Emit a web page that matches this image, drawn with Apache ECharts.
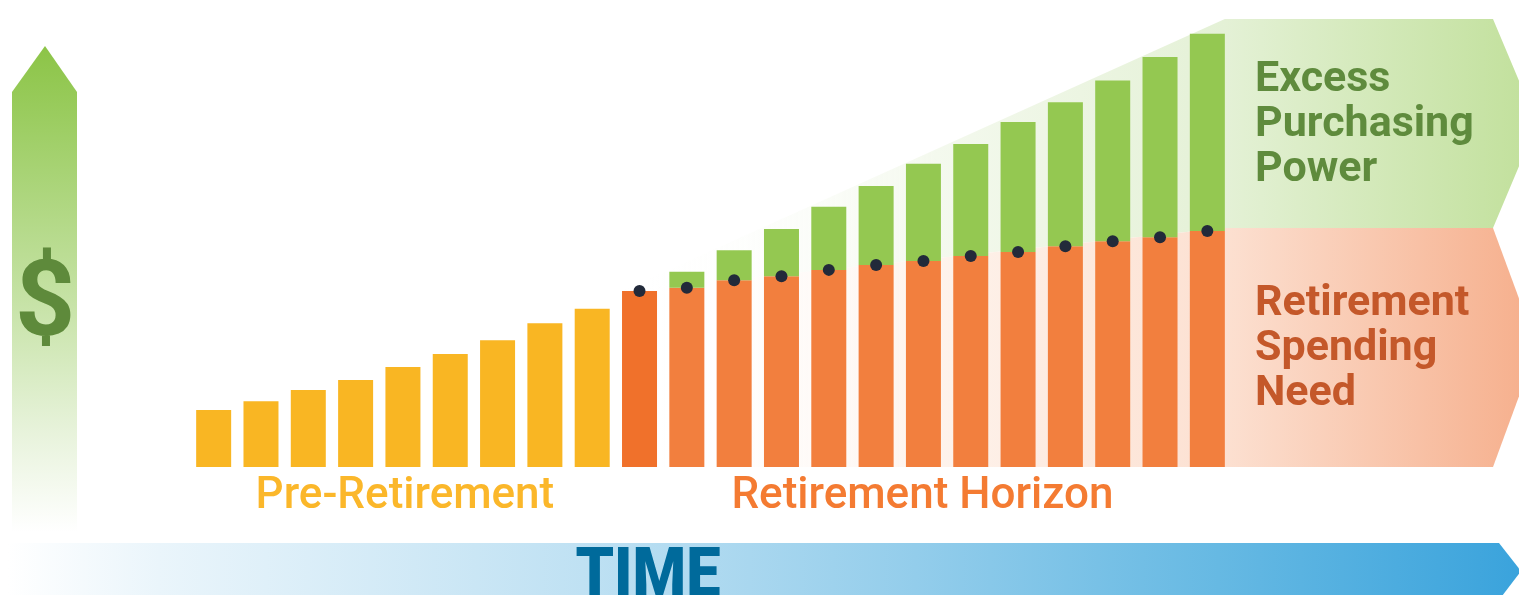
<!DOCTYPE html>
<html><head><meta charset="utf-8">
<script src="https://cdn.jsdelivr.net/npm/echarts@6/dist/echarts.min.js"></script>
<style>html,body{margin:0;padding:0;background:#fff}#c{width:1519px;height:595px}</style>
</head><body><div id="c"></div>
<script>
// ---- data ----
const categories = ['P1','P2','P3','P4','P5','P6','P7','P8','P9','R1','R2','R3','R4','R5','R6','R7','R8','R9','R10','R11','R12','R13'];
const preRetirement = [12.7, 14.7, 17.2, 19.4, 22.3, 25.2, 28.3, 32.1, 35.3];
const retirementNeed = [39.3, 40.0, 41.7, 42.6, 44.0, 45.1, 46.0, 47.1, 48.0, 49.3, 50.4, 51.3, 52.7];
const excessPower = [0, 3.6, 6.7, 10.5, 14.1, 17.6, 21.7, 25.0, 29.0, 32.1, 35.9, 40.2, 44.0];
const groupLabels = ['Pre-Retirement', 'Retirement Horizon'];
const panelLabels = [['Excess', 'Purchasing', 'Power'], ['Retirement', 'Spending', 'Need']];
const axisLabels = ['$', 'TIME'];

const chart = echarts.init(document.getElementById('c'), null, {renderer: 'canvas'});
const nP = preRetirement.length;
const nAll = categories.length;
const needData = preRetirement.map(v => ({value: v, itemStyle: {color: '#f9b623'}}))
  .concat(retirementNeed.map((v, i) => ({value: v, itemStyle: {color: i === 0 ? '#f0712b' : '#f27f3e'}})));
const excessData = preRetirement.map(() => '-').concat(excessPower.map(v => v > 0 ? v : '-'));
const dotData = preRetirement.map(() => '-').concat(retirementNeed);
const BW = 35;

chart.setOption({
  animation: false,
  grid: {left: 190, right: 288, top: 19, bottom: 128},
  xAxis: {type: 'category', data: categories, show: false},
  yAxis: {type: 'value', min: 0, max: 100, show: false},
  series: [
    {type: 'bar', stack: 's', data: needData, barWidth: BW, z: 3},
    {type: 'bar', stack: 's', data: excessData, barWidth: BW, itemStyle: {color: '#94c851'}, z: 3},
    {type: 'scatter', data: dotData, symbolSize: 12, itemStyle: {color: '#222a3a', opacity: 1}, z: 5}
  ]
});

const px = (i, v) => chart.convertToPixel({seriesIndex: 0}, [i, v]);
const half = BW / 2;
const first = nP, last = nAll - 1;
const s = px(first, retirementNeed[0]);
const startX = s[0] - half, startY = s[1];
const e = px(last, 100);
const endX = e[0] + half, topY = e[1];
const divY = px(last, retirementNeed[retirementNeed.length - 1])[1] - 3;
const baseY = px(last, 0)[1];
const panelR = 1493, tipX = 1537;
const W = 1519;
const g0 = (startX), gw = W - startX;
const off = x => Math.max(0, Math.min(1, (x - g0) / gw));

const greenGrad = {type: 'linear', x: g0, y: 0, x2: W, y2: 0, global: true, colorStops: [
  {offset: 0, color: 'rgba(255,255,255,0)'},
  {offset: 0.35, color: 'rgba(244,249,238,1)'},
  {offset: off(endX), color: '#e4f1d6'},
  {offset: 1, color: '#c3e19e'}]};
const orangeGrad = {type: 'linear', x: g0, y: 0, x2: W, y2: 0, global: true, colorStops: [
  {offset: 0, color: 'rgba(255,255,255,0)'},
  {offset: 0.35, color: 'rgba(254,243,236,1)'},
  {offset: off(endX), color: '#fce0d1'},
  {offset: 1, color: '#f6b18f'}]};

const mid = (a, b) => (px(a, 0)[0] + px(b, 0)[0]) / 2;
const font = (w, sz) => w + ' ' + sz + 'px Roboto, "Open Sans", sans-serif';
const graphics = [
  // vertical $ arrow
  {type: 'polygon', z: 0, shape: {points: [[12, 92], [45, 46], [77, 92], [77, 532], [12, 532]]},
   style: {fill: {type: 'linear', x: 0, y: 0, x2: 0, y2: 1, colorStops: [
     {offset: 0, color: '#8cc447'}, {offset: 0.12, color: '#98cb5b'}, {offset: 0.5, color: '#c3e1a1'},
     {offset: 0.8, color: '#e8f3dc'}, {offset: 1, color: '#ffffff'}]}}},
  // horizontal TIME arrow
  {type: 'polygon', z: 0, shape: {points: [[8, 543], [1499, 543], [1521, 571], [1499, 600], [8, 600]]},
   style: {fill: {type: 'linear', x: 0, y: 0, x2: 1, y2: 0, colorStops: [
     {offset: 0, color: '#ffffff'}, {offset: 0.1, color: '#eaf5fb'}, {offset: 0.38, color: '#bfe1f3'},
     {offset: 0.6, color: '#93cdeb'}, {offset: 0.8, color: '#66b9e3'}, {offset: 1, color: '#3aa3dc'}]}}},
  // green tint panel
  {type: 'polygon', z: 0, shape: {points: [[startX, startY], [endX, topY], [panelR, topY], [tipX, (topY + divY) / 2], [panelR, divY], [endX, divY]]},
   style: {fill: greenGrad}},
  // orange tint panel
  {type: 'polygon', z: 0, shape: {points: [[startX, startY], [endX, divY], [panelR, divY], [tipX, (divY + baseY) / 2], [panelR, baseY], [startX, baseY]]},
   style: {fill: orangeGrad}},
  // texts
  {type: 'text', z: 10, x: 45, y: 309, style: {text: axisLabels[0], font: font('bold', 105), fill: '#5e8a3b', align: 'center', verticalAlign: 'middle'}},
  {type: 'text', z: 10, x: 648, y: 579, scaleX: 0.9, style: {text: axisLabels[1], font: font('900', 68), fill: '#006a9b', align: 'center', verticalAlign: 'middle'}},
  {type: 'text', z: 10, x: mid(0, nP - 1) + 2, y: 497, style: {text: groupLabels[0], font: font('500', 44), fill: '#fbb72a', align: 'center', verticalAlign: 'middle'}},
  {type: 'text', z: 10, x: mid(nP, last) - 1, y: 497, style: {text: groupLabels[1], font: font('500', 44), fill: '#f47b32', align: 'center', verticalAlign: 'middle'}}
];
panelLabels[0].forEach((t, k) => graphics.push({type: 'text', z: 10, x: 1255, y: 80 + 45 * k,
  style: {text: t, font: font('bold', 43), fill: '#5f8b3d', align: 'left', verticalAlign: 'middle'}}));
panelLabels[1].forEach((t, k) => graphics.push({type: 'text', z: 10, x: 1255, y: 304 + 45 * k,
  style: {text: t, font: font('bold', 43), fill: '#c4582a', align: 'left', verticalAlign: 'middle'}}));

chart.setOption({graphic: {elements: graphics}});
</script>
</body></html>
